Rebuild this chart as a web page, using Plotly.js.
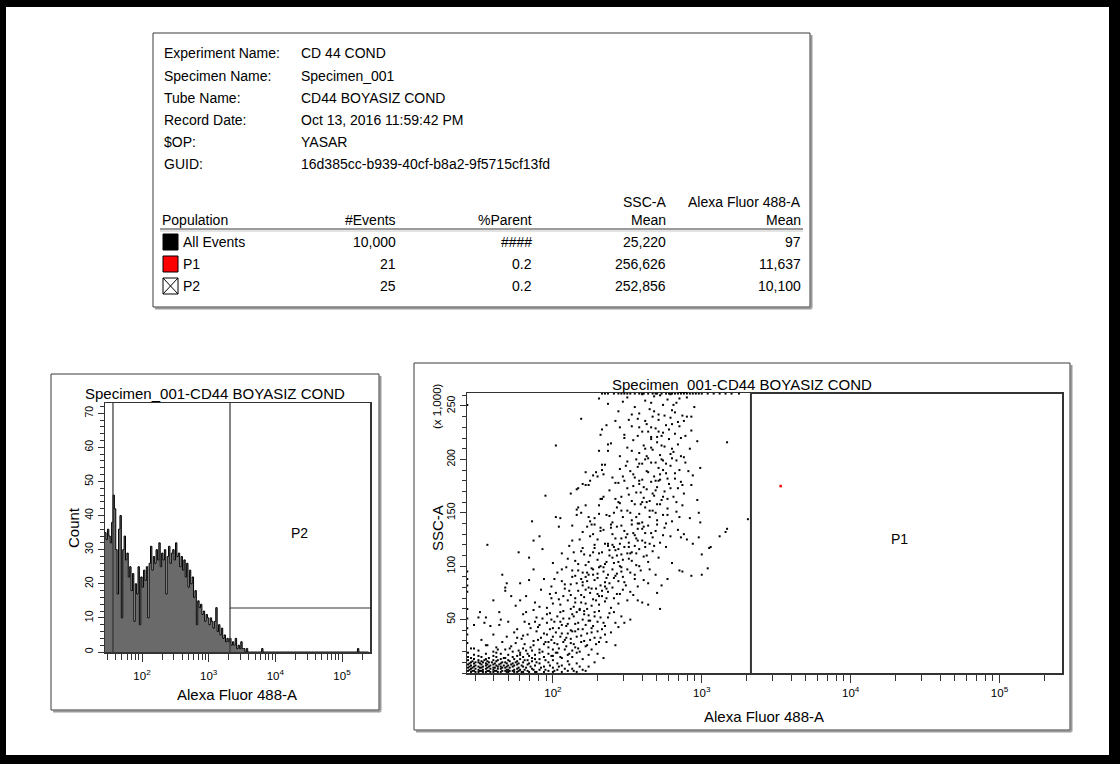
<!DOCTYPE html>
<html><head><meta charset="utf-8">
<script src="https://cdn.plot.ly/plotly-3.0.1.min.js"></script>
<style>html,body{margin:0;padding:0;background:#fff;}#chart{width:1120px;height:764px;}</style>
</head><body><div id="chart"></div>
<script>
// ---------------- DATA ----------------
const infoLabels = ['Experiment Name:', 'Specimen Name:', 'Tube Name:', 'Record Date:', '$OP:', 'GUID:'];
const infoValues = ['CD 44 COND', 'Specimen_001', 'CD44 BOYASIZ COND', 'Oct 13, 2016 11:59:42 PM', 'YASAR', '16d385cc-b939-40cf-b8a2-9f5715cf13fd'];
const popNames = ['All Events', 'P1', 'P2'];
const popEvents = [10000, 21, 25];
const popParent = ['####', '0.2', '0.2'];
const popSSCMean = [25220, 256626, 252856];
const popAlexaMean = [97, 11637, 10100];

const plotTitle = 'Specimen_001-CD44 BOYASIZ COND';
const xTitle = 'Alexa Fluor 488-A';

// Histogram: counts per bin (bins of 1/48 decade starting at 10^1.44)
const histLogStart = 1.44;
const histBinsPerDecade = 48;
const histCounts = [35,33,36,34,32,38,46,42,30,17,36,40,10,30,34,27,29,22,25,18,
  23,9,20,17,25,8,22,19,24,21,25,10,26,31,24,28,26,30,27,32,
  25,29,27,30,17,28,31,26,29,30,27,32,28,29,25,28,24,27,22,26,
  19,24,20,22,16,18,8,15,13,14,11,12,9,11,10,8,10,9,7,9,
  13,6,8,5,7,4,5,3,4,3,4,2,3,2,4,1,2,1,3,1,
  1,0,1,0];
const histBlipBins = [113, 182];
const histBlipCounts = [1, 1];
const histTotalBins = 190;
const histGateLeft = 36.7;     // vertical marker
const p2GateX = 2090;          // P2 interval start
const p2GateY = 12.9;          // P2 interval level (count)

// Dot plot: [log10(Alexa Fluor 488-A), SSC-A (x 1,000)]
const ssc_vs_alexa = [
 [1.43,2],[1.43,5],[1.43,8],[1.43,12],[1.43,15],[1.43,19],
 [1.45,1],[1.45,4],[1.45,7],[1.45,10],[1.45,14],[1.45,23],
 [1.47,2],[1.47,6],[1.47,9],[1.47,13],[1.47,17],
 [1.5,1],[1.5,3],[1.5,6],[1.5,10],[1.5,12],[1.5,16],[1.5,21],
 [1.52,2],[1.52,5],[1.52,8],[1.52,11],[1.52,15],
 [1.55,1],[1.55,4],[1.55,7],[1.55,9],[1.55,13],[1.55,18],[1.55,26],
 [1.57,2],[1.57,6],[1.57,10],[1.57,14],
 [1.6,1],[1.6,3],[1.6,5],[1.6,8],[1.6,12],[1.6,16],[1.6,20],
 [1.62,2],[1.62,7],[1.62,11],[1.62,15],[1.62,24],
 [1.65,1],[1.65,4],[1.65,6],[1.65,9],[1.65,13],[1.65,18],
 [1.68,2],[1.68,5],[1.68,10],[1.68,14],[1.68,22],
 [1.7,1],[1.7,3],[1.7,7],[1.7,12],[1.7,17],
 [1.73,2],[1.73,6],[1.73,9],[1.73,15],[1.73,20],
 [1.76,1],[1.76,4],[1.76,8],[1.76,11],[1.76,16],
 [1.78,3],[1.78,13],[1.78,19],
 [1.8,1],[1.8,6],[1.8,10],[1.8,15],[1.8,23],
 [1.83,2],[1.83,8],[1.83,12],[1.83,18],
 [1.86,4],[1.86,14],[1.86,11],
 [1.88,1],[1.88,7],[1.88,17],
 [1.91,3],[1.91,9],[1.91,13],[1.91,19],
 [1.94,1],[1.94,6],[1.94,15],
 [1.97,2],[1.97,10],[1.97,18],
 [2.0,1],[2.0,5],[2.0,12],[2.0,16],
 [2.03,3],[2.03,9],[2.03,19],
 [2.06,1],[2.06,7],[2.06,14],
 [2.1,2],[2.1,11],[2.1,17],
 [2.13,4],[2.13,15],[2.16,1],[2.16,9],[2.16,19],
 [2.2,3],[2.2,13],[2.24,6],[2.24,17],[2.28,10],[2.3,18],[2.34,14],
 // corner, more
 [1.44,3],[1.44,6],[1.44,9],[1.46,2],[1.46,5],[1.46,11],[1.48,1],[1.48,4],[1.48,7],[1.48,10],
 [1.51,2],[1.51,5],[1.51,9],[1.53,1],[1.53,3],[1.53,6],[1.53,10],[1.54,12],[1.56,2],[1.56,5],
 [1.56,8],[1.56,11],[1.58,1],[1.58,4],[1.58,7],[1.59,10],[1.61,2],[1.61,5],[1.61,9],[1.63,1],
 [1.63,4],[1.63,6],[1.63,12],[1.64,8],[1.66,2],[1.66,5],[1.66,10],[1.67,7],[1.69,1],[1.69,3],
 [1.69,6],[1.69,9],[1.71,2],[1.71,5],[1.71,11],[1.72,8],[1.74,1],[1.74,3],[1.74,7],[1.75,10],
 [1.77,2],[1.77,5],[1.77,9],[1.79,1],[1.79,7],[1.81,3],[1.81,12],[1.82,5],[1.84,1],[1.84,9],
 [1.85,6],[1.87,3],[1.89,1],[1.89,10],[1.92,5],[1.95,3],[1.98,7],[2.01,2],[2.04,6],[2.08,4],
 [2.11,8],[2.14,2],[2.18,6],[2.22,2],
 // SSC 20-40
 [1.47,23],[1.52,31],[1.56,26],[1.6,36],[1.63,22],[1.66,29],[1.69,34],[1.72,25],[1.74,38],[1.77,21],
 [1.79,32],[1.81,27],[1.83,36],[1.85,24],[1.87,30],[1.89,39],[1.91,22],[1.92,33],[1.94,27],[1.96,36],
 [1.97,24],[1.99,31],[2.01,28],[2.02,38],[2.04,23],[2.05,34],[2.07,29],[2.09,25],[2.1,37],[2.12,32],
 [2.14,27],[2.15,39],[2.17,23],[2.19,35],[2.21,30],[2.23,26],[2.26,38],[2.28,33],[2.31,29],[2.35,36],
 [1.86,21],[1.95,29],[2.0,22],[2.08,31],[2.13,21],[2.42,26],
 // SSC 12-60, more
 [1.62,19],[1.67,14],[1.71,23],[1.74,13],[1.75,28],[1.78,17],[1.8,35],[1.82,21],[1.84,16],[1.85,42],
 [1.87,26],[1.88,13],[1.9,31],[1.91,45],[1.93,20],[1.94,37],[1.95,12],[1.97,29],[1.98,41],[1.99,16],
 [2.0,34],[2.01,48],[2.02,19],[2.03,27],[2.04,42],[2.05,15],[2.06,37],[2.07,51],[2.08,22],[2.09,33],
 [2.1,46],[2.11,18],[2.12,28],[2.13,39],[2.14,53],[2.15,24],[2.16,34],[2.17,47],[2.18,20],[2.19,29],
 [2.2,41],[2.21,55],[2.22,25],[2.23,37],[2.24,49],[2.25,31],[2.26,22],[2.27,44],[2.28,53],[2.29,27],
 [2.3,39],[2.31,58],[2.32,33],[2.34,47],[2.36,29],[2.37,52],[2.39,38],[2.41,57],[2.44,43],[1.96,55],
 [1.89,52],[1.81,48],[1.76,33],[2.05,57],[2.12,60],
 // SSC 40-60
 [1.5,52],[1.58,44],[1.64,57],[1.7,48],[1.76,41],[1.8,55],[1.84,46],[1.87,59],[1.9,43],[1.93,51],
 [1.96,47],[1.98,56],[2.0,42],[2.03,53],[2.05,48],[2.07,58],[2.09,44],[2.11,51],[2.13,55],[2.15,46],
 [2.17,41],[2.18,59],[2.2,50],[2.22,45],[2.24,54],[2.26,42],[2.28,57],[2.3,48],[2.32,52],[2.35,44],
 [2.38,56],[2.42,47],[2.46,53],[2.12,40],[2.06,45],[1.99,50],[2.25,49],[2.16,57],[2.33,41],[2.21,58],
 [2.52,50],[2.48,47],
 // SSC 60-80
 [1.6,68],[1.68,77],[1.75,63],[1.82,72],[1.88,66],[1.92,78],[1.96,61],[1.99,70],[2.02,75],[2.05,64],
 [2.08,79],[2.1,68],[2.12,73],[2.14,62],[2.17,77],[2.19,66],[2.21,71],[2.23,60],[2.25,75],[2.27,69],
 [2.29,79],[2.31,64],[2.33,72],[2.35,67],[2.37,76],[2.39,61],[2.41,70],[2.44,65],[2.47,78],[2.5,68],
 [2.54,73],[2.15,70],[2.07,72],[2.26,63],[2.3,74],[2.0,65],[2.18,60],[2.36,79],[2.22,78],[2.43,74],
 [2.6,66],[2.57,68],[2.64,64],[2.7,75],[2.72,60],
 // SSC 80-100
 [1.66,92],[1.78,84],[1.87,97],[1.94,88],[1.99,81],[2.03,94],[2.06,86],[2.09,99],[2.12,83],[2.15,91],
 [2.17,96],[2.2,85],[2.22,90],[2.24,80],[2.26,98],[2.28,87],[2.3,93],[2.32,82],[2.34,95],[2.36,89],
 [2.38,84],[2.4,97],[2.42,91],[2.44,86],[2.46,99],[2.49,82],[2.52,94],[2.55,88],[2.59,96],[2.64,84],
 [2.69,92],[2.27,92],[2.19,88],[2.35,81],[2.41,89],[2.13,96],[2.31,99],[2.47,90],[2.23,94],[2.57,81],
 [2.73,82],[2.77,88],[2.85,96],[2.87,95],[2.93,91],[3.0,92],
 // SSC 60-140, more
 [1.98,74],[2.01,88],[2.04,69],[2.06,97],[2.08,83],[2.1,107],[2.11,77],[2.13,90],[2.14,113],[2.15,66],
 [2.16,84],[2.17,102],[2.18,125],[2.19,73],[2.2,94],[2.21,111],[2.22,65],[2.23,86],[2.24,104],[2.25,128],
 [2.26,79],[2.27,97],[2.28,120],[2.29,68],[2.3,89],[2.31,112],[2.32,133],[2.33,77],[2.34,99],[2.35,121],
 [2.36,70],[2.37,92],[2.38,115],[2.39,136],[2.4,80],[2.41,103],[2.42,126],[2.43,93],[2.44,116],[2.45,74],
 [2.46,138],[2.47,106],[2.48,85],[2.49,127],[2.5,97],[2.51,118],[2.52,76],[2.53,105],[2.54,131],[2.55,92],
 [2.56,112],[2.57,124],[2.58,100],[2.6,135],[2.61,87],[2.62,122],[2.63,110],[2.65,97],[2.66,131],[2.68,119],
 [2.2,82],[2.27,130],[2.35,85],[2.43,110],[2.31,72],[2.4,120],[2.24,92],[2.46,95],[2.36,104],[2.52,112],
 // SSC 100-120
 [1.84,108],[1.93,116],[2.0,103],[2.06,112],[2.11,119],[2.15,105],[2.19,114],[2.22,101],[2.25,110],[2.28,117],
 [2.3,106],[2.33,113],[2.35,102],[2.37,119],[2.4,108],[2.42,115],[2.44,104],[2.46,111],[2.48,118],[2.51,107],
 [2.53,113],[2.56,101],[2.58,116],[2.61,109],[2.64,104],[2.67,114],[2.71,108],[2.76,118],[2.8,103],[2.38,110],
 [2.32,100],[2.45,100],[2.27,113],[2.5,112],[2.55,119],[2.62,118],[2.2,117],[2.41,118],
 [3.04,98],[3.0,111],[3.05,117],[3.06,118],
 // SSC 120-140
 [1.91,128],[2.04,137],[2.13,124],[2.2,132],[2.26,139],[2.3,125],[2.34,134],[2.37,121],[2.4,130],[2.43,137],
 [2.46,126],[2.48,133],[2.51,122],[2.53,139],[2.55,129],[2.57,135],[2.6,124],[2.62,131],[2.64,138],[2.67,127],
 [2.69,133],[2.72,122],[2.75,136],[2.79,128],[2.84,134],[2.9,125],[3.12,128],[2.45,121],[2.58,140],[2.65,121],
 [2.5,130],[2.39,139],[2.7,139],[2.56,126],[2.61,137],[2.74,129],
 [2.94,121],[2.86,127],[2.88,130],[2.98,127],[3.16,132],[3.17,135],
 // SSC 140-160
 [2.02,146],[2.16,153],[2.25,142],[2.31,157],[2.36,148],[2.4,141],[2.43,155],[2.47,146],[2.5,152],[2.53,143],
 [2.55,158],[2.58,149],[2.6,141],[2.62,155],[2.65,146],[2.67,152],[2.7,143],[2.72,158],[2.74,148],[2.77,154],
 [2.8,142],[2.83,151],[2.87,157],[2.92,145],[2.98,150],[2.52,150],[2.63,160],[2.57,140],[2.69,150],[2.45,159],
 [2.76,140],[2.85,146],[2.41,150],[2.99,141],
 // SSC 160-180
 [2.12,168],[2.24,176],[2.32,163],[2.38,171],[2.42,178],[2.46,165],[2.5,173],[2.53,161],[2.56,169],[2.58,177],
 [2.61,164],[2.63,172],[2.66,179],[2.68,166],[2.7,174],[2.73,162],[2.75,170],[2.78,177],[2.81,165],[2.84,173],
 [2.88,168],[2.93,176],[2.97,162],[2.59,169],[2.65,161],[2.71,180],[2.48,180],[2.54,175],[2.77,163],[2.86,179],
 [2.44,160],[2.6,160],
 // SSC 180-200
 [2.22,188],[2.33,195],[2.4,183],[2.45,191],[2.5,198],[2.54,186],[2.57,193],[2.6,181],[2.63,189],[2.66,197],
 [2.68,184],[2.71,192],[2.74,199],[2.76,187],[2.79,194],[2.82,182],[2.85,190],[2.89,197],[2.94,185],[2.99,192],
 [2.62,200],[2.69,180],[2.77,182],[2.52,189],[2.58,196],[2.47,184],[2.83,199],[2.72,186],
 // SSC 200-220
 [2.31,208],[2.39,215],[2.45,203],[2.5,211],[2.54,218],[2.58,206],[2.61,213],[2.64,201],[2.67,209],[2.7,216],
 [2.72,204],[2.75,212],[2.78,219],[2.81,207],[2.84,214],[2.88,202],[2.92,210],[2.97,217],[3.17,216],[2.56,200],
 [2.66,219],[2.73,200],[2.62,210],[2.8,201],[2.86,220],[2.48,220],
 // SSC 220-240
 [2.33,228],[2.42,236],[2.48,223],[2.53,231],[2.57,238],[2.6,226],[2.63,233],[2.66,221],[2.69,229],[2.71,237],
 [2.74,225],[2.76,232],[2.79,239],[2.82,224],[2.85,231],[2.88,236],[2.93,227],[2.58,230],[2.67,240],[2.73,222],
 [2.8,233],[2.64,226],[2.51,237],[2.9,240],[2.7,221],[2.45,230],
 // SSC 240-262
 [2.37,252],[2.44,245],[2.5,258],[2.55,249],[2.58,243],[2.62,255],[2.65,247],[2.68,259],[2.71,242],[2.74,251],
 [2.77,256],[2.8,246],[2.83,253],[2.87,241],[2.9,258],[2.95,249],[2.6,261],[2.72,260],[2.53,242],[2.66,253],
 [2.79,261],[2.85,257],[2.47,254],[2.82,244],
 // SSC 140-255, more
 [2.38,147],[2.42,163],[2.44,178],[2.46,152],[2.49,194],[2.51,167],[2.53,208],[2.55,183],[2.56,146],[2.57,222],
 [2.59,158],[2.6,196],[2.61,174],[2.62,236],[2.64,188],[2.65,152],[2.66,211],[2.67,168],[2.68,245],[2.69,197],
 [2.7,158],[2.71,226],[2.72,181],[2.73,213],[2.74,165],[2.75,241],[2.76,196],[2.77,148],[2.78,228],[2.79,173],
 [2.8,210],[2.81,251],[2.82,187],[2.83,160],[2.84,235],[2.86,203],[2.87,176],[2.89,222],[2.91,189],[2.93,240],
 [2.63,203],[2.58,180],[2.69,171],[2.74,190],[2.66,230],[2.79,205],
 // saturated at the top of scale
 [2.33,261.6],[2.35,261.6],[2.37,261.6],[2.41,261.6],[2.44,261.6],[2.46,261.6],[2.48,261.6],[2.5,261.6],
 [2.52,261.6],[2.55,261.6],[2.58,261.6],[2.6,261.6],[2.61,261.6],[2.64,261.6],[2.67,261.6],[2.69,261.6],
 [2.7,261.6],[2.73,261.6],[2.76,261.6],[2.78,261.6],[2.8,261.6],[2.82,261.6],[2.84,261.6],[2.86,261.6],
 [2.88,261.6],[2.9,261.6],[2.92,261.6],[2.94,261.6],[2.96,261.6],[2.98,261.6],[3.0,261.6],[3.04,261.6],
 [3.08,261.6],[3.12,261.6],[3.16,261.6],[3.2,261.6],[3.25,261.6],
 // sparse events
 [2.19,238],[2.02,213],[1.95,166],[1.86,142],[2.05,145],[2.31,257],[2.36,232],[2.32,223],[2.37,214],[2.37,208],
 [2.35,195],[2.29,188],[2.3,184],[2.33,190],[2.34,186],[2.27,185],[2.25,180],[2.22,176],[2.2,177],[2.17,173],
 [2.16,172],[2.34,165],[2.33,163],[2.17,155],[2.22,157],[2.16,148],[2.19,150],[2.24,146],[2.28,145],[2.31,149],
 [2.13,138],[2.23,137],[2.28,139],[2.32,136],
 [1.56,120],[1.77,113],[1.87,124],[1.69,84],[1.68,80],[1.72,72],[1.78,68],[1.84,87],[1.51,57],[1.47,45],
 [1.54,47],[1.55,52],[1.64,45],[1.65,50],[1.88,48],[1.91,62],[1.82,57],[3.31,144],
 [1.425,28],[1.425,36],[1.425,42],[1.425,51],[1.425,60],[1.425,76],[1.425,82],[1.425,88],[1.425,95],[1.425,251]
];
const p1Events = [[3.53,175]];
const p1GateX = 2140;
const sscMax = 262.144;

// ---------------- LAYOUT HELPERS ----------------
const W = 1120, H = 764;
const X = px => px / W, Y = py => 1 - py / H;
const FONT = '"Liberation Sans", Arial, sans-serif';
const AX = '#333333';
const fmt = n => n.toLocaleString('en-US');

// ---------------- TRACES ----------------
const hx = [], hy = [];
for (let i = 0; i < histTotalBins; i++) {
  let c = i < histCounts.length ? histCounts[i] : 0;
  const b = histBlipBins.indexOf(i);
  if (b >= 0) c = histBlipCounts[b];
  hx.push(Math.pow(10, histLogStart + i / histBinsPerDecade));
  hy.push(c);
}
hx.push(Math.pow(10, histLogStart + histTotalBins / histBinsPerDecade)); hy.push(0);

const traces = [
  {x: hx, y: hy, xaxis: 'x', yaxis: 'y', type: 'scatter', mode: 'lines',
   line: {shape: 'hv', color: '#000', width: 1}, fill: 'tozeroy', fillcolor: '#6a6a6a', hoverinfo: 'skip'},
  {x: [histGateLeft, histGateLeft], y: [0, 80], xaxis: 'x', yaxis: 'y', mode: 'lines', line: {color: AX, width: 1.2}, hoverinfo: 'skip'},
  {x: [p2GateX, p2GateX, 1e6], y: [80, p2GateY, p2GateY], xaxis: 'x', yaxis: 'y', mode: 'lines', line: {color: AX, width: 1.2}, hoverinfo: 'skip'},
  {x: [p2GateX, p2GateX], y: [0, p2GateY], xaxis: 'x', yaxis: 'y', mode: 'lines', line: {color: AX, width: 1.2}, hoverinfo: 'skip'},
  {x: ssc_vs_alexa.map(p => Math.pow(10, p[0])), y: ssc_vs_alexa.map(p => p[1]), xaxis: 'x2', yaxis: 'y2',
   type: 'scatter', mode: 'markers', marker: {symbol: 'square', size: 2, color: '#000', line: {width: 0}}, hoverinfo: 'skip'},
  {x: p1Events.map(p => Math.pow(10, p[0])), y: p1Events.map(p => p[1]), xaxis: 'x2', yaxis: 'y2',
   type: 'scatter', mode: 'markers', marker: {symbol: 'square', size: 2.5, color: '#ff0000', line: {width: 0}}, hoverinfo: 'skip'},
  {x: [p1GateX, p1GateX, 1e6], y: [0, sscMax, sscMax], xaxis: 'x2', yaxis: 'y2', mode: 'lines', line: {color: AX, width: 2}, hoverinfo: 'skip', cliponaxis: false}
];

// ---------------- AXES ----------------
const decades = [100, 1000, 10000, 100000];
const decadeText = ['10<sup>2</sup>', '10<sup>3</sup>', '10<sup>4</sup>', '10<sup>5</sup>'];
const minorLog = [];
[10, 100, 1000, 10000, 100000].forEach(d => { for (let k = 2; k <= 9; k++) minorLog.push(k * d); });
function logAxis(domain, range, anchor, standoff) {
  return {domain, range, type: 'log', anchor, tickvals: decades, ticktext: decadeText,
    ticks: 'outside', ticklen: 8, tickwidth: 1, tickcolor: AX,
    minor: {tickvals: minorLog, ticks: 'outside', ticklen: 6, tickwidth: 1, tickcolor: AX, showgrid: false},
    showline: true, linecolor: AX, linewidth: 1.5, mirror: true, showgrid: false, zeroline: false,
    ticklabelstandoff: standoff, tickfont: {family: FONT, size: 11.5, color: '#000'}, fixedrange: true};
}
function linAxis(domain, range, anchor, tickvals, minorStep) {
  return {domain, range, anchor, tickvals, ticktext: tickvals.map(String), tickangle: -90,
    ticks: 'outside', ticklen: 6, tickwidth: 1, tickcolor: AX,
    minor: {dtick: minorStep, tick0: 0, ticks: 'outside', ticklen: 4, tickwidth: 1, tickcolor: AX, showgrid: false},
    showline: true, linecolor: AX, linewidth: 1.5, mirror: true, showgrid: false, zeroline: false,
    tickfont: {family: FONT, size: 10.5, color: '#000'}, fixedrange: true};
}

// ---------------- ANNOTATIONS ----------------
const ann = [];
function txt(text, px, py, xanchor, size, extra) {
  ann.push(Object.assign({xref: 'paper', yref: 'paper', x: X(px), y: Y(py), text, showarrow: false,
    xanchor: xanchor, yanchor: 'middle', font: {family: FONT, size: size, color: '#000'}}, extra || {}));
}
const infoRowY = [53, 75.5, 98, 120, 142, 164];
infoLabels.forEach((t, i) => { txt(t, 162, infoRowY[i], 'left', 14); txt(infoValues[i], 299, infoRowY[i], 'left', 14); });
txt('SSC-A', 668, 202, 'right', 14);
txt('Alexa Fluor 488-A', 803, 202, 'right', 14);
txt('Population', 160, 220, 'left', 14);
txt('#Events', 398, 220, 'right', 14);
txt('%Parent', 534, 220, 'right', 14);
txt('Mean', 668, 220, 'right', 14);
txt('Mean', 803, 220, 'right', 14);
const popRowY = [242, 264, 286];
popNames.forEach((n, i) => {
  txt(n, 181, popRowY[i], 'left', 14);
  txt(fmt(popEvents[i]), 398, popRowY[i], 'right', 14);
  txt(popParent[i], 534, popRowY[i], 'right', 14);
  txt(fmt(popSSCMean[i]), 668, popRowY[i], 'right', 14);
  txt(fmt(popAlexaMean[i]), 803, popRowY[i], 'right', 14);
});
// histogram panel text
txt(plotTitle, 215, 394, 'center', 15);
txt(xTitle, 237, 694, 'center', 15);
txt('Count', 73, 528, 'center', 15, {textangle: -90});
ann.push({xref: 'x', yref: 'y', x: Math.log10(23000), y: 35, text: 'P2', showarrow: false, font: {family: FONT, size: 14, color: '#000'}});
// dot plot panel text
txt(plotTitle, 742, 384, 'center', 15);
txt(xTitle, 764, 716, 'center', 15);
txt('SSC-A', 437, 528, 'center', 15, {textangle: -90});
txt('(x 1,000)', 437, 406, 'center', 11.5, {textangle: -90});
ann.push({xref: 'x2', yref: 'y2', x: Math.log10(21400), y: 125, text: 'P1', showarrow: false, font: {family: FONT, size: 14, color: '#000'}});

// ---------------- SHAPES ----------------
const shapes = [];
function rect(x0, y0, x1, y1, lineColor, lineWidth, fill) {
  shapes.push({type: 'rect', xref: 'paper', yref: 'paper', x0: X(x0), x1: X(x1), y0: Y(y0), y1: Y(y1),
    line: {color: lineColor, width: lineWidth}, fillcolor: fill || 'rgba(0,0,0,0)', layer: 'above'});
}
function line(x0, y0, x1, y1, color, width) {
  shapes.push({type: 'line', xref: 'paper', yref: 'paper', x0: X(x0), x1: X(x1), y0: Y(y0), y1: Y(y1),
    line: {color, width}, layer: 'above'});
}
function panel(x0, y0, x1, y1) {
  line(x0 + 2, y1 + 1.5, x1 + 1.5, y1 + 1.5, '#9a9a9a', 2);
  line(x1 + 1.5, y0 + 2, x1 + 1.5, y1 + 1.5, '#9a9a9a', 2);
  rect(x0, y0, x1, y1, '#3a3a3a', 1);
}
// outer black frame
rect(0, 0, 1120, 7, 'rgba(0,0,0,0)', 0, '#000');
rect(0, 755, 1120, 764, 'rgba(0,0,0,0)', 0, '#000');
rect(0, 0, 6, 764, 'rgba(0,0,0,0)', 0, '#000');
rect(1109, 0, 1120, 764, 'rgba(0,0,0,0)', 0, '#000');
panel(153, 33, 810, 307);
panel(51, 374, 379, 710);
panel(414, 363, 1070, 730);
// table separator
line(160, 229, 803, 229, '#7a7a7a', 1.5);
line(160, 231, 803, 231, '#c8c8c8', 1.2);
// population swatches
rect(163, 234, 178, 250, '#000', 1, '#000');
rect(163, 256, 178, 272, '#000', 1, '#ff0000');
rect(163, 278, 178, 294, '#000', 1, '#fff');
line(163, 278, 178, 294, '#000', 1);
line(163, 294, 178, 278, '#000', 1);

const layout = {
  width: W, height: H, margin: {l: 0, r: 0, t: 0, b: 0}, paper_bgcolor: '#fff', plot_bgcolor: '#fff',
  showlegend: false, font: {family: FONT, color: '#000'},
  xaxis: logAxis([X(105), X(370)], [1.445, 5.42], 'y', 5),
  yaxis: linAxis([Y(652), Y(403)], [0, 73], 'x', [0, 10, 20, 30, 40, 50, 60, 70], 2),
  xaxis2: logAxis([X(467), X(1062)], [1.423, 5.42], 'y2', 1),
  yaxis2: linAxis([Y(673), Y(393)], [0, sscMax], 'x2', [50, 100, 150, 200, 250], 10),
  annotations: ann, shapes: shapes
};
Plotly.newPlot('chart', traces, layout, {displayModeBar: false, staticPlot: true});
</script></body></html>
